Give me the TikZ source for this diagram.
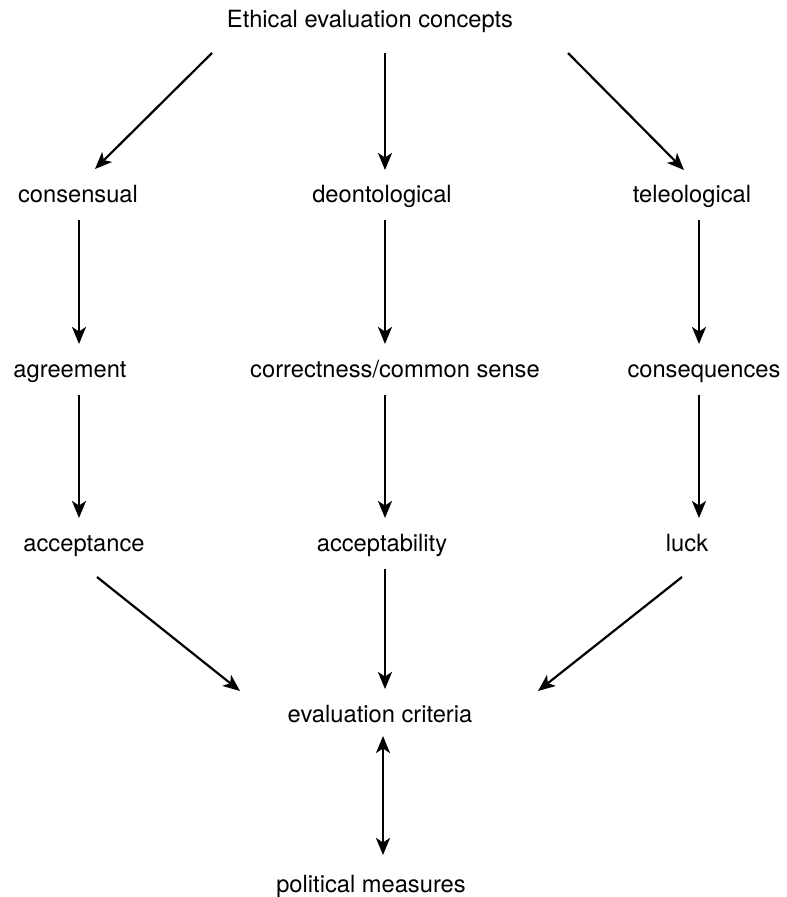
\documentclass[tikz,border=0pt]{standalone}
\usepackage{fontspec}
\setmainfont{TeX Gyre Heros}
\usepackage{tikz}
\usetikzlibrary{arrows, arrows.meta, positioning, calc}

\begin{document}
\begin{tikzpicture}[x=1pt, y=-1pt, line width=2.2pt]
  \tikzstyle{lbl}=[anchor=base, inner xsep=0pt, inner ysep=0pt, outer ysep=15pt,
    text height=18pt, text depth=3pt, font=\fontsize{23.7}{28}\selectfont]%
  \tikzstyle{arr}=[-{Stealth[length=17pt, width=14pt, inset=4.5pt]}]%
  \tikzstyle{arrboth}=[{Stealth[length=17pt, width=14pt, inset=4.5pt]}-{Stealth[length=17pt, width=14pt, inset=4.5pt]}]%

  \useasboundingbox (0,0) rectangle (787,897);

  %% Labels
  \node[lbl] (title) at (370,27) {Ethical evaluation concepts};
  % first row
  \node[lbl] (cons) at (78,202) {consensual};
  \node[lbl] (deon) at (382,202) {deontological};
  \node[lbl] (tele) at (692,202) {teleological};
  % second row
  \node[lbl] (agree) at (70,377) {agreement};
  \node[lbl] (correct) at (395,377) {correctness/common sense};
  \node[lbl] (conseq) at (704,377) {consequences};
  % third row
  \node[lbl] (accept) at (84,551) {acceptance};
  \node[lbl] (acceptab) at (382,551) {acceptability};
  \node[lbl] (luck) at (687,551) {luck};
  % bottom
  \node[lbl] (crit) at (380,722) {evaluation criteria};
  \node[lbl] (polit) at (371,892) {political measures};

  %% Edges
  % from the top
  \draw[arr] ($(title.south)+(-158,8)$) -- ($(cons.north)+(17,0)$);
  \draw[arr] ($(title.south)+(15,8)$) -- ($(deon.north)+(3,1)$);
  \draw[arr] ($(title.south)+(198,8)$) -- ($(tele.north)+(-8,1)$);

  % columns
  \draw[arr] ([xshift=1pt]cons.south) -- ([xshift=1pt]cons.south |- agree.north);
  \draw[arr] ([xshift=3pt]deon.south) -- ([xshift=3pt]deon.south |- correct.north);
  \draw[arr] ([xshift=7pt]tele.south) -- ([xshift=7pt]tele.south |- conseq.north);
  \draw[arr] ([xshift=9pt]agree.south) -- ([xshift=9pt]agree.south |- accept.north);
  \draw[arr] ([xshift=-10pt]correct.south) -- ([xshift=-10pt]correct.south |- acceptab.north);
  \draw[arr] ([xshift=-5pt]conseq.south) -- ([xshift=-5pt]conseq.south |- luck.north);

  % into the criteria
  \draw[arr] ($(accept.south)+(13,8)$) -- ($(crit.north)+(-140,2)$);
  \draw[arr] ([xshift=3pt]acceptab.south) -- ([xshift=3pt]acceptab.south |- crit.north);
  \draw[arr] ($(luck.south)+(-5,8)$) -- ($(crit.north)+(158,2)$);

  % both ways
  \draw[arrboth, shorten <=-4pt, shorten >=4pt]
    ([xshift=3pt]crit.south) -- ([xshift=3pt]crit.south |- polit.north);
\end{tikzpicture}
\end{document}
